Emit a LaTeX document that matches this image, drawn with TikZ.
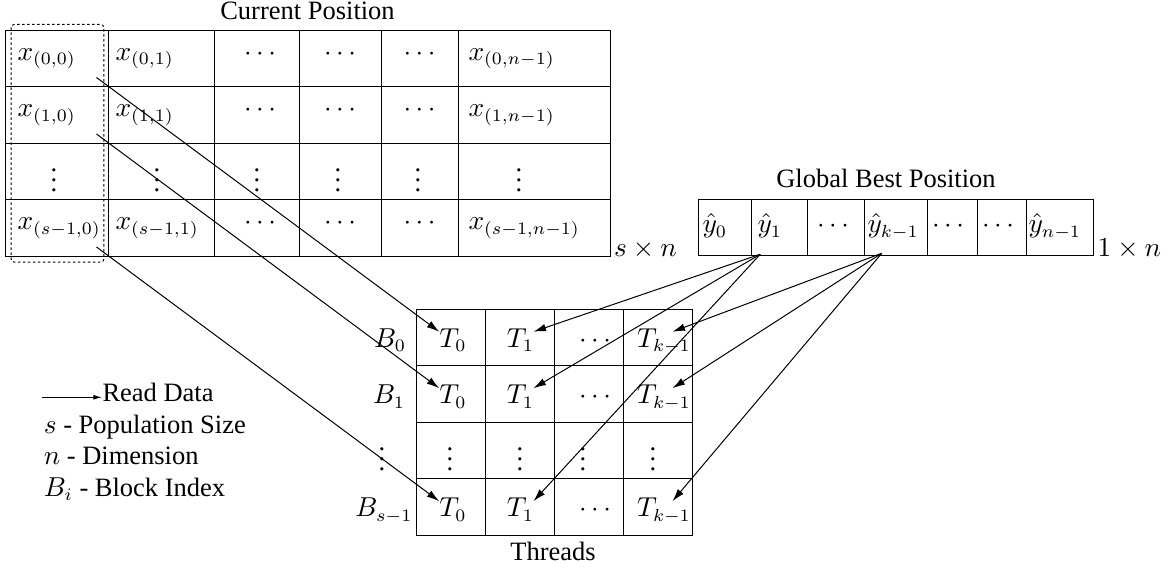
\documentclass[tikz,border=0pt]{standalone}
\usepackage[no-math]{fontspec}
\setmainfont{Liberation Serif}
\usetikzlibrary{calc,arrows.meta}
\begin{document}
\begin{tikzpicture}[x=0.4pt,y=-0.4pt,
  font=\rmfamily\fontsize{10.6}{12.7}\selectfont,
  cell/.style={draw, rectangle, inner sep=0pt, minimum height=22.6pt},
  txt/.style={inner sep=0pt, anchor=base west},
  ctxt/.style={inner sep=0pt, anchor=base},
  arr/.style={-{Latex[length=5pt,width=3pt]}},
  legarr/.style={-{Latex[length=3.5pt,width=2pt]}},
  dotbox/.style={dash pattern=on 1pt off 1pt, rounded corners=1.2pt}]
\useasboundingbox (0,0) rectangle (1174,571);

% ---------- Current Position matrix ----------
\foreach \cx/\w [count=\j from 0] in {56.5/103,161/106,256.5/85,340/82,419.5/77,534/152}
  \foreach \cy [count=\i from 0] in {58.75,115.25,171.75,228.25}
    \node[cell, minimum width=\w*0.4pt] (c\i\j) at (\cx,\cy) {};

\foreach \r/\b/\lab in {0/60.5/0, 1/117/1, 3/230/s-1} {
  \node[txt]  (x\r0) at (17,\b)    {$x_{(\lab,0)}$};
  \node[txt]  (x\r1) at (115,\b)   {$x_{(\lab,1)}$};
  \node[ctxt] (x\r2) at (260,\b)   {$\cdots$};
  \node[ctxt] (x\r3) at (340,\b)   {$\cdots$};
  \node[ctxt] (x\r4) at (419.5,\b) {$\cdots$};
  \node[txt]  (x\r5) at (468,\b)   {$x_{(\lab,n-1)}$};
}
\foreach \vx [count=\j from 0] in {54,157,257,338,418,519}
  \node[ctxt] (x2\j) at (\vx,192) {$\vdots$};

\node[ctxt] (curtitle) at (307.5,20) {Current Position};
\node[txt, xshift=1.2pt] (sn) at (c35.south east) {$s\times n$};
\draw[dotbox] ($(c00.north west)+(6.7,-5.5)$) rectangle ($(c30.south east)+(-4.7,5.2)$);

% ---------- Global Best Position ----------
\foreach \cx/\w [count=\j from 0] in {725/53.4,779.7/56,836/56.6,896/63.4,952.5/49.6,1002/49.4,1060/66.6}
  \node[cell, minimum width=\w*0.4pt] (g\j) at (\cx,227.5) {};
\node[txt]  (yh0) at (702,233)  {$\hat{y}_0$};
\node[txt]  (yh1) at (757,233)  {$\hat{y}_1$};
\node[ctxt] (gd2) at (833,233)  {$\cdots$};
\node[txt]  (yhk) at (867,233)  {$\hat{y}_{k-1}$};
\node[ctxt] (gd4) at (948,233)  {$\cdots$};
\node[ctxt] (gd5) at (998,233)  {$\cdots$};
\node[txt]  (yhn) at (1028,233) {$\hat{y}_{n-1}$};
\node[ctxt] (gtitle) at (886,188) {Global Best Position};
\node[txt, xshift=1.3pt] (onen) at (g6.south east) {$1\times n$};

% ---------- Threads ----------
\foreach \cx [count=\j from 0] in {451.2,520.2,589.2,658.2}
  \foreach \cy [count=\i from 0] in {337.5,394,450.5,507}
    \node[cell, minimum width=27.6pt] (t\i\j) at (\cx,\cy) {};

\foreach \r/\b in {0/347.5, 1/404, 3/517} {
  \node[ctxt] (T\r0) at (453,\b)   {$T_0$};
  \node[ctxt] (T\r1) at (520.5,\b) {$T_1$};
  \node[ctxt] (T\r2) at (595,\b)   {$\cdots$};
  \node[ctxt] (T\r3) at (664,\b)   {$T_{k-1}$};
}
\foreach \vx [count=\j from 0] in {450,520,583,653}
  \node[ctxt] (T2\j) at (\vx,470.5) {$\vdots$};

\node[ctxt] (B0) at (390,347.5) {$B_0$};
\node[ctxt] (B1) at (389,404)   {$B_1$};
\node[ctxt] (B2) at (382,470.5) {$\vdots$};
\node[ctxt] (B3) at (384,517)   {$B_{s-1}$};
\node[ctxt] (thtitle) at (553,561) {Threads};

% ---------- Read arrows ----------
\foreach \r in {0,1,3}
  \draw[arr] ($(c\r0.south east)+(-12,-10)$) -- ($(t\r0.center)+(-12,-5.8)$);
\foreach \r in {0,1,3}
  \draw[arr] ($(g1.south west)+(9,-2)$) -- ($(t\r1.center)+(13.3,-5.8)$);
\foreach \r in {0,1,3}
  \draw[arr] ($(g3.south west)+(18,-3)$) -- ($(t\r3.center)+(14.3,-5.8)$);

% ---------- Legend ----------
\coordinate (la) at (41.7,397.3);
\node[txt] (rd) at (102,402) {Read Data};
\draw[legarr] (la) -- (la -| rd.west);
\node[txt] (lg1) at (43.3,433.5) {$s$ - Population Size};
\node[txt] (lg2) at (43.3,465)   {$n$ - Dimension};
\node[txt] (lg3) at (43.3,496.5) {$B_i$ - Block Index};
\end{tikzpicture}
\end{document}
